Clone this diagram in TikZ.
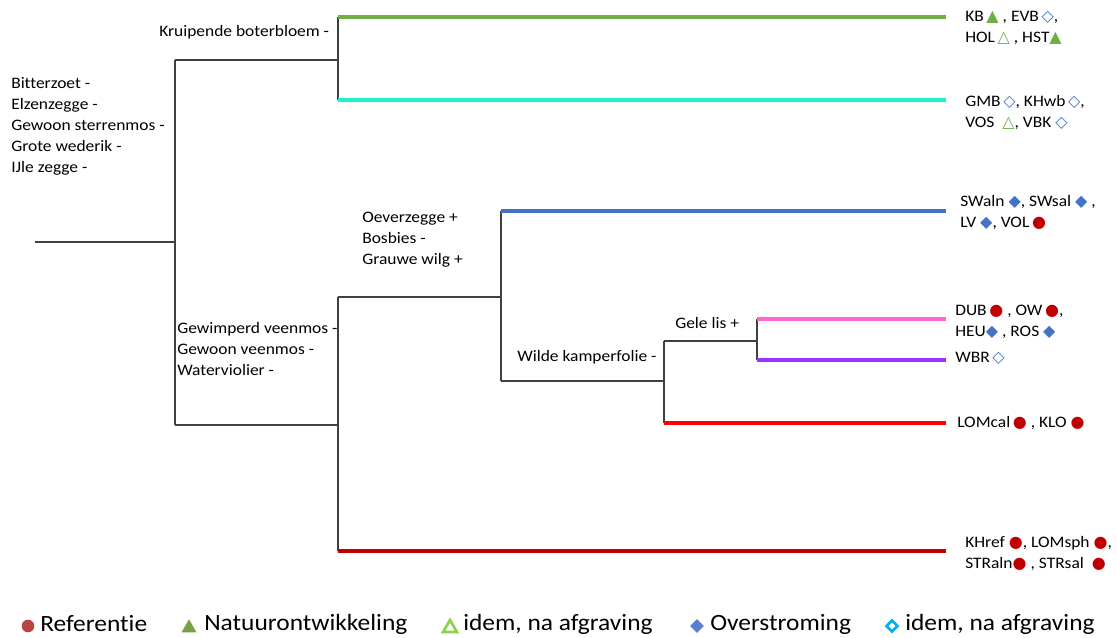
\documentclass[tikz,border=0pt]{standalone}
\usepackage{fontspec}
\setmainfont[FakeStretch=1.09,Ligatures=NoCommon]{Carlito}
\newfontfamily\symf{DejaVu Sans}
\usetikzlibrary{shapes.geometric}
\definecolor{cGreen}{HTML}{70AD47}
\definecolor{cCyan}{HTML}{1EF2C8}
\definecolor{cBlue}{HTML}{4472C4}
\definecolor{cPink}{HTML}{FF66CC}
\definecolor{cPurple}{HTML}{9933FF}
\definecolor{cRed}{HTML}{FF0000}
\definecolor{cDRed}{HTML}{C00000}
\definecolor{cLine}{HTML}{404040}
\definecolor{lgRed}{HTML}{B84444}
\definecolor{lgGreen}{HTML}{77A043}
\definecolor{lgLGreen}{HTML}{8DD14A}
\definecolor{lgBlue}{HTML}{5B7FD0}
\definecolor{lgCyan}{HTML}{00B0F0}
\newcommand{\Ftri}{{\symf\scalebox{1.0}{\textcolor{cGreen}{▲}}}}
\newcommand{\Otri}{{\symf\scalebox{1.0}{\textcolor{cGreen}{△}}}}
\newcommand{\Fdia}{{\symf\scalebox{1.0}{\textcolor{cBlue}{◆}}}}
\newcommand{\Odia}{{\symf\scalebox{1.0}{\textcolor{cBlue}{◇}}}}
\newcommand{\Dot}{{\symf\scalebox{1.0}{\textcolor{cDRed}{●}}}}
\tikzset{
  x=0.75pt, y=-0.75pt,
  tree/.style={draw=cLine, line width=1.1pt},
  leaf/.style={line width=2.6pt},
  spec/.style={anchor=west, align=left, inner sep=0pt, font=\fontsize{12}{15.75}\selectfont},
  site/.style={anchor=west, align=left, inner sep=0pt, font=\fontsize{12}{15.75}\selectfont},
  lgtext/.style={anchor=west, inner sep=0pt, font=\fontsize{17.5}{20}\selectfont},
  lgcirc/.style={circle, inner sep=0pt, minimum size=9.5pt, fill=lgRed},
  lgtri/.style={regular polygon, regular polygon sides=3, inner sep=0pt, minimum size=13pt},
  lgdia/.style={diamond, inner sep=0pt, minimum width=10.5pt, minimum height=10.5pt},
}
\begin{document}
\begin{tikzpicture}
\useasboundingbox (0,0) rectangle (1117,637);
% junction coordinates
\coordinate (root) at (35,242);
\coordinate (j1) at (175,242);
\coordinate (j1t) at (175,60);
\coordinate (j1b) at (175,425);
\coordinate (a) at (338,60);
\coordinate (a1) at (338,17);
\coordinate (a2) at (338,100);
\coordinate (b) at (338,425);
\coordinate (b1) at (338,297);
\coordinate (b2) at (338,551);
\coordinate (c) at (501,297);
\coordinate (c1) at (501,211);
\coordinate (c2) at (501,381);
\coordinate (d) at (664,381);
\coordinate (d1) at (664,341);
\coordinate (d2) at (664,423);
\coordinate (e) at (757,341);
\coordinate (e1) at (757,319);
\coordinate (e2) at (757,360);
\coordinate (L1) at (946,17);
\coordinate (L2) at (946,100);
\coordinate (L3) at (946,211);
\coordinate (L4) at (946,319);
\coordinate (L5) at (946,360);
\coordinate (L6) at (946,423);
\coordinate (L7) at (946,551);
% black tree
\draw[tree] (root) -- (j1);
\draw[tree] (j1t) -- (j1b);
\draw[tree] (j1t) -- (a);
\draw[tree] (a1) -- (a2);
\draw[tree] (j1b) -- (b);
\draw[tree] (b1) -- (b2);
\draw[tree] (b1) -- (c);
\draw[tree] (c1) -- (c2);
\draw[tree] (c2) -- (d);
\draw[tree] (d1) -- (d2);
\draw[tree] (d1) -- (e);
\draw[tree] (e1) -- (e2);
% coloured leaves
\draw[leaf, cGreen] (a1) -- (L1);
\draw[leaf, cCyan] (a2) -- (L2);
\draw[leaf, cBlue] (c1) -- (L3);
\draw[leaf, cPink] (e1) -- (L4);
\draw[leaf, cPurple] (e2) -- (L5);
\draw[leaf, cRed] (d2) -- (L6);
\draw[leaf, cDRed] (b2) -- (L7);
% species texts
\node[spec] (s0) at (11,126) {Bitterzoet -\\Elzenzegge -\\Gewoon sterrenmos -\\Grote wederik -\\IJle zegge -};
\node[spec] (s1) at (159,32) {Kruipende boterbloem -};
\node[spec] (s2) at (177,349) {Gewimperd veenmos -\\Gewoon veenmos -\\Waterviolier -};
\node[spec] (s3) at (362,240) {Oeverzegge +\\Bosbies -\\Grauwe wilg +};
\node[spec] (s4) at (517,357) {Wilde kamperfolie -};
\node[spec] (s5) at (675,323) {Gele lis +};
% site labels
\node[site] (t1) at (965,28) {KB\,\Ftri\ , EVB\,\Odia,\\HOL\,\Otri\ , HST\Ftri};
\node[site] (t2) at (965,112) {GMB\,\Odia, KHwb\,\Odia,\\VOS \ \Otri , VBK \Odia};
\node[site] (t3) at (960,212) {SWaln \Fdia, SWsal \Fdia\ ,\\LV \Fdia, VOL\,\Dot};
\node[site] (t4) at (955,322) {DUB\,\Dot\ , OW\,\Dot,\\HEU\Fdia\ , ROS \Fdia};
\node[site] (t5) at (955,358) {WBR\,\Odia};
\node[site] (t6) at (957,423) {LOMcal\,\Dot\ , KLO \Dot};
\node[site] (t7) at (965,553) {KHref \Dot, LOMsph \Dot,\\STRaln\Dot\ , STRsal \ \Dot};
% legend
\node[lgcirc] (m1) at (28,626) {};
\node[lgtext] (g1) at (40,624) {Referentie};
\node[lgtri, fill=lgGreen] (m2) at (189,628) {};
\node[lgtext] (g2) at (204,624) {Natuurontwikkeling};
\node[lgtri, draw=lgLGreen, line width=2pt, minimum size=12pt] (m3) at (450,628) {};
\node[lgtext] (g3) at (463,624) {idem, na afgraving};
\node[lgdia, fill=lgBlue] (m4) at (697,626) {};
\node[lgtext] (g4) at (710,624) {Overstroming};
\node[lgdia, draw=lgCyan, line width=2pt, minimum width=9pt, minimum height=9pt] (m5) at (892,626) {};
\node[lgtext] (g5) at (905,624) {idem, na afgraving};
\end{tikzpicture}
\end{document}
